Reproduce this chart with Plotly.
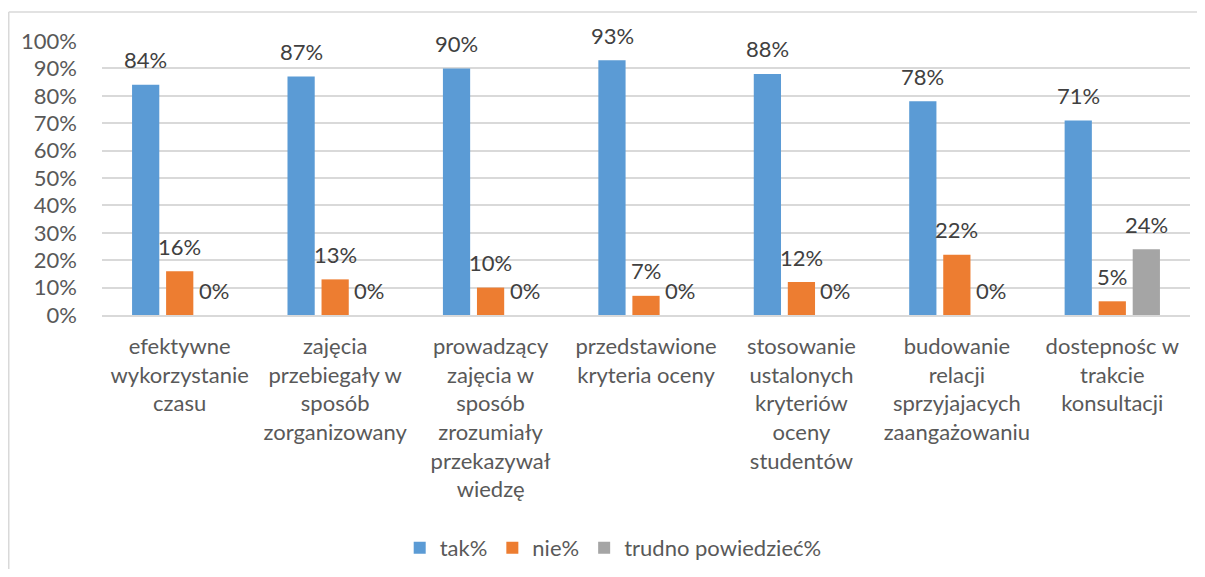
import plotly.graph_objects as go

categories = [
    "efektywne<br>wykorzystanie<br>czasu",
    "zajęcia<br>przebiegały w<br>sposób<br>zorganizowany",
    "prowadzący<br>zajęcia w<br>sposób<br>zrozumiały<br>przekazywał<br>wiedzę",
    "przedstawione<br>kryteria oceny",
    "stosowanie<br>ustalonych<br>kryteriów<br>oceny<br>studentów",
    "budowanie<br>relacji<br>sprzyjajacych<br>zaangażowaniu",
    "dostepnośc w<br>trakcie<br>konsultacji",
]
series_names = ["tak%", "nie%", "trudno powiedzieć%"]
tak = [0.84, 0.87, 0.90, 0.93, 0.88, 0.78, 0.71]
nie = [0.16, 0.13, 0.10, 0.07, 0.12, 0.22, 0.05]
trudno = [0.0, 0.0, 0.0, 0.0, 0.0, 0.0, 0.24]
y_ticks = [0.0, 0.1, 0.2, 0.3, 0.4, 0.5, 0.6, 0.7, 0.8, 0.9, 1.0]

colors = ["#5B9BD5", "#ED7D31", "#A5A5A5"]
FONT = "Lato"
FS = 22
# page body has an 8px margin; keep the figure inside the window (no scrollbars)
W, H = 1189, 561
ML, MR, MT, MB = 94, 7, 33, 254

fig = go.Figure()
all_series = [tak, nie, trudno]
for name, vals, col in zip(series_names, all_series, colors):
    fig.add_trace(go.Bar(
        x=categories, y=vals, name=name,
        marker=dict(color=col, line=dict(width=0)),
        hoverinfo="skip",
    ))

annotations = []
shifts = [-34, 0, 34]
for vals, sh in zip(all_series, shifts):
    for c, v in zip(categories, vals):
        annotations.append(dict(
            x=c, y=v, xref="x", yref="y", text=f"{round(v*100)}%",
            showarrow=False, xshift=sh, yshift=25, yanchor="middle",
            font=dict(family=FONT, size=FS, color="#404040"),
        ))

px_w = W - ML - MR
px_h = H - MT - MB
bx = (0.75 - ML) / px_w          # left frame edge (paper units)
by = (H - MB - 4) / px_h         # top frame edge (paper units)
frame = dict(color="#D9D9D9", width=1.5)

fig.update_layout(
    width=W, height=H,
    margin=dict(l=ML, r=MR, t=MT, b=MB, autoexpand=False),
    paper_bgcolor="white", plot_bgcolor="white",
    barmode="group", bargap=0.343, bargroupgap=0.2,
    font=dict(family=FONT, size=FS, color="#595959"),
    showlegend=True,
    legend=dict(
        orientation="h", xref="container", yref="container",
        x=0.509, xanchor="center", y=0.0374, yanchor="middle",
        font=dict(family=FONT, size=FS, color="#595959"),
        itemwidth=30,
    ),
    annotations=annotations,
    shapes=[
        dict(type="line", xref="paper", yref="paper",
             x0=bx, x1=1.5, y0=by, y1=by, line=frame, layer="below"),
        dict(type="line", xref="paper", yref="paper",
             x0=bx, x1=bx, y0=by, y1=-1.5, line=frame, layer="below"),
    ],
)
fig.update_xaxes(
    type="category", automargin=False, showgrid=False,
    showline=True, linecolor="#D9D9D9", linewidth=1.5,
    ticks="", tickfont=dict(family=FONT, size=FS, color="#595959"),
    ticklabelstandoff=11,
)
fig.update_yaxes(
    range=[0, 1], automargin=False, tickvals=y_ticks, tickformat=".0%",
    showgrid=True, gridcolor="#D9D9D9", gridwidth=1.5,
    zeroline=False, showline=False, ticks="",
    tickfont=dict(family=FONT, size=FS, color="#595959"),
    ticklabelstandoff=24,
)

fig.write_html("out.html")
